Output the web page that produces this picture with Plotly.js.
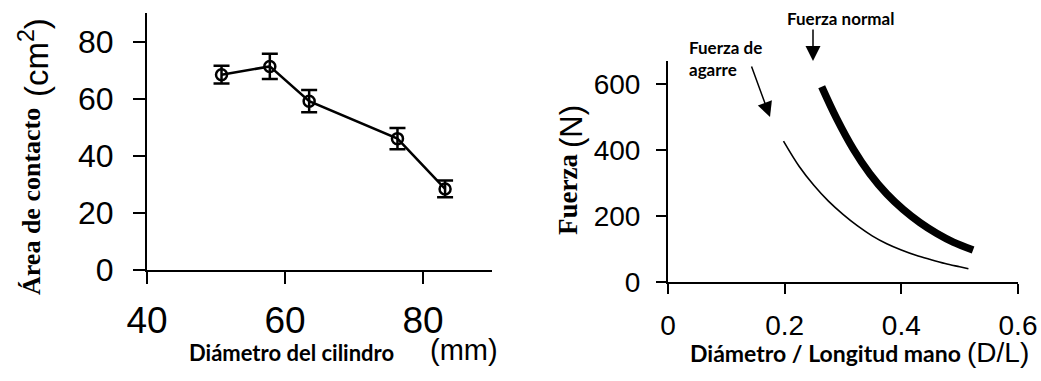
<!DOCTYPE html>
<html>
<head>
<meta charset="utf-8">
<script src="https://cdn.plot.ly/plotly-3.0.1.min.js"></script>
<style>html,body{margin:0;padding:0;background:#fff;}#chart{width:1041px;height:381px;}</style>
</head>
<body>
<div id="chart"></div>
<script>
// Left panel: contact area vs cylinder diameter
const diameterMm = [50.8, 57.8, 63.5, 76.3, 83.2];
const contactArea = [68.4, 71.3, 59.1, 46.0, 28.4];
const contactAreaErr = [3.1, 4.4, 3.9, 3.7, 2.9];
const leftXTicks = [40, 60, 80];
const leftYTicks = [0, 20, 40, 60, 80];

// Right panel: force vs D/L
const gripRatio = [0.198, 0.225, 0.25, 0.275, 0.30, 0.325, 0.35, 0.375, 0.40, 0.425, 0.45, 0.475, 0.50, 0.515];
const gripForce = [427, 350, 293, 245, 205, 170, 140, 116, 97, 81, 68, 56, 46, 40];
const normalRatio = [0.2635, 0.289, 0.318, 0.346, 0.375, 0.403, 0.432, 0.461, 0.489, 0.523];
const normalForce = [592, 496, 402, 328, 267, 220, 180, 147, 121, 97];
const rightXTicks = [0, 0.2, 0.4, 0.6];
const rightXTickText = ['0', '0.2', '0.4', '0.6'];
const rightYTicks = [0, 200, 400, 600];

const W = 1041, H = 381;
const px = v => v / W;
const py = v => 1 - v / H;

const traces = [
  {
    x: diameterMm, y: contactArea, xaxis: 'x', yaxis: 'y',
    type: 'scatter', mode: 'lines+markers',
    line: {color: '#000', width: 2.5},
    marker: {symbol: 'circle-open', size: 11, color: '#000', line: {width: 2.5, color: '#000'}},
    error_y: {type: 'data', array: contactAreaErr, visible: true, color: '#000', thickness: 2.5, width: 8},
    showlegend: false, hoverinfo: 'skip'
  },
  {
    x: gripRatio, y: gripForce, xaxis: 'x2', yaxis: 'y2',
    type: 'scatter', mode: 'lines',
    line: {color: '#000', width: 1.6, shape: 'spline', smoothing: 1},
    showlegend: false, hoverinfo: 'skip'
  },
  {
    x: normalRatio, y: normalForce, xaxis: 'x2', yaxis: 'y2',
    type: 'scatter', mode: 'lines',
    line: {color: '#000', width: 7.5, shape: 'spline', smoothing: 1},
    showlegend: false, hoverinfo: 'skip'
  }
];

const axisBase = {
  showgrid: false, zeroline: false, showline: true, linecolor: '#000', linewidth: 2,
  ticks: 'outside', tickcolor: '#000', tickwidth: 2, fixedrange: true
};

const sansTitle = 'Lato, "Open Sans", sans-serif';
const arial = '"Liberation Sans", Arial, sans-serif';
const serif = '"Liberation Serif", "Times New Roman", serif';

const layout = {
  width: W, height: H,
  margin: {l: 0, r: 0, t: 0, b: 0},
  paper_bgcolor: '#fff', plot_bgcolor: '#fff',
  showlegend: false,
  xaxis: Object.assign({}, axisBase, {
    domain: [px(147), px(492)], range: [40, 90], tickvals: leftXTicks, anchor: 'y',
    ticklen: 12, ticklabelstandoff: 5,
    tickfont: {family: arial, size: 37, color: '#000'}
  }),
  yaxis: Object.assign({}, axisBase, {
    domain: [py(270), py(13)], range: [0, 90], tickvals: leftYTicks, anchor: 'x',
    ticklen: 12, ticklabelstandoff: 13,
    tickfont: {family: arial, size: 32, color: '#000'}
  }),
  xaxis2: Object.assign({}, axisBase, {
    domain: [px(668), px(1018)], range: [0, 0.6], tickvals: rightXTicks, ticktext: rightXTickText, anchor: 'y2',
    ticklen: 10, ticklabelstandoff: 7,
    tickfont: {family: arial, size: 28, color: '#000'}
  }),
  yaxis2: Object.assign({}, axisBase, {
    domain: [py(282), py(61)], range: [0, 670], tickvals: rightYTicks, anchor: 'x2',
    ticklen: 10, ticklabelstandoff: 10,
    tickfont: {family: arial, size: 28, color: '#000'}
  }),
  annotations: [
    // left y title
    {xref: 'paper', yref: 'paper', x: px(31), y: py(202), xanchor: 'center', yanchor: 'middle',
     text: '<b>Área de contacto</b>', textangle: -90, showarrow: false,
     font: {family: serif, size: 26, color: '#000'}},
    {xref: 'paper', yref: 'paper', x: px(34), y: py(58), xanchor: 'center', yanchor: 'middle',
     text: '(cm<sup>2</sup>)', textangle: -90, showarrow: false,
     font: {family: arial, size: 33, color: '#000'}},
    // left x title
    {xref: 'paper', yref: 'paper', x: px(291), y: py(352), xanchor: 'center', yanchor: 'middle',
     text: '<b>Diámetro del cilindro</b>', showarrow: false,
     font: {family: sansTitle, size: 22, color: '#000'}},
    {xref: 'paper', yref: 'paper', x: px(464), y: py(350), xanchor: 'center', yanchor: 'middle',
     text: '(mm)', showarrow: false,
     font: {family: arial, size: 29, color: '#000'}},
    // right y title
    {xref: 'paper', yref: 'paper', x: px(568), y: py(195), xanchor: 'center', yanchor: 'middle',
     text: '<b>Fuerza</b>', textangle: -90, showarrow: false,
     font: {family: serif, size: 27, color: '#000'}},
    {xref: 'paper', yref: 'paper', x: px(572), y: py(127), xanchor: 'center', yanchor: 'middle',
     text: '(N)', textangle: -90, showarrow: false,
     font: {family: arial, size: 31, color: '#000'}},
    // right x title
    {xref: 'paper', yref: 'paper', x: px(825), y: py(353), xanchor: 'center', yanchor: 'middle',
     text: '<b>Diámetro / Longitud mano</b>', showarrow: false,
     font: {family: sansTitle, size: 23, color: '#000'}},
    {xref: 'paper', yref: 'paper', x: px(998), y: py(352), xanchor: 'center', yanchor: 'middle',
     text: '(D/L)', showarrow: false,
     font: {family: arial, size: 28, color: '#000'}},
    // curve labels
    {xref: 'paper', yref: 'paper', x: px(785), y: py(19), xanchor: 'left', yanchor: 'middle',
     text: '<b>Fuerza normal</b>', showarrow: false,
     font: {family: sansTitle, size: 17, color: '#000'}},
    {xref: 'paper', yref: 'paper', x: px(687), y: py(59), xanchor: 'left', yanchor: 'middle',
     text: '<b>Fuerza de<br>agarre</b>', align: 'left', showarrow: false,
     font: {family: sansTitle, size: 17, color: '#000'}},
    // arrows
    {xref: 'paper', yref: 'paper', x: px(813), y: py(61), ax: 0, ay: -33, axref: 'pixel', ayref: 'pixel',
     text: '', showarrow: true, arrowhead: 2, arrowsize: 2, arrowwidth: 1.5, arrowcolor: '#000'},
    {xref: 'paper', yref: 'paper', x: px(770), y: py(117), ax: -19, ay: -52, axref: 'pixel', ayref: 'pixel',
     text: '', showarrow: true, arrowhead: 2, arrowsize: 2, arrowwidth: 1.5, arrowcolor: '#000'}
  ]
};

Plotly.newPlot('chart', traces, layout, {staticPlot: true, displayModeBar: false});
</script>
</body>
</html>
